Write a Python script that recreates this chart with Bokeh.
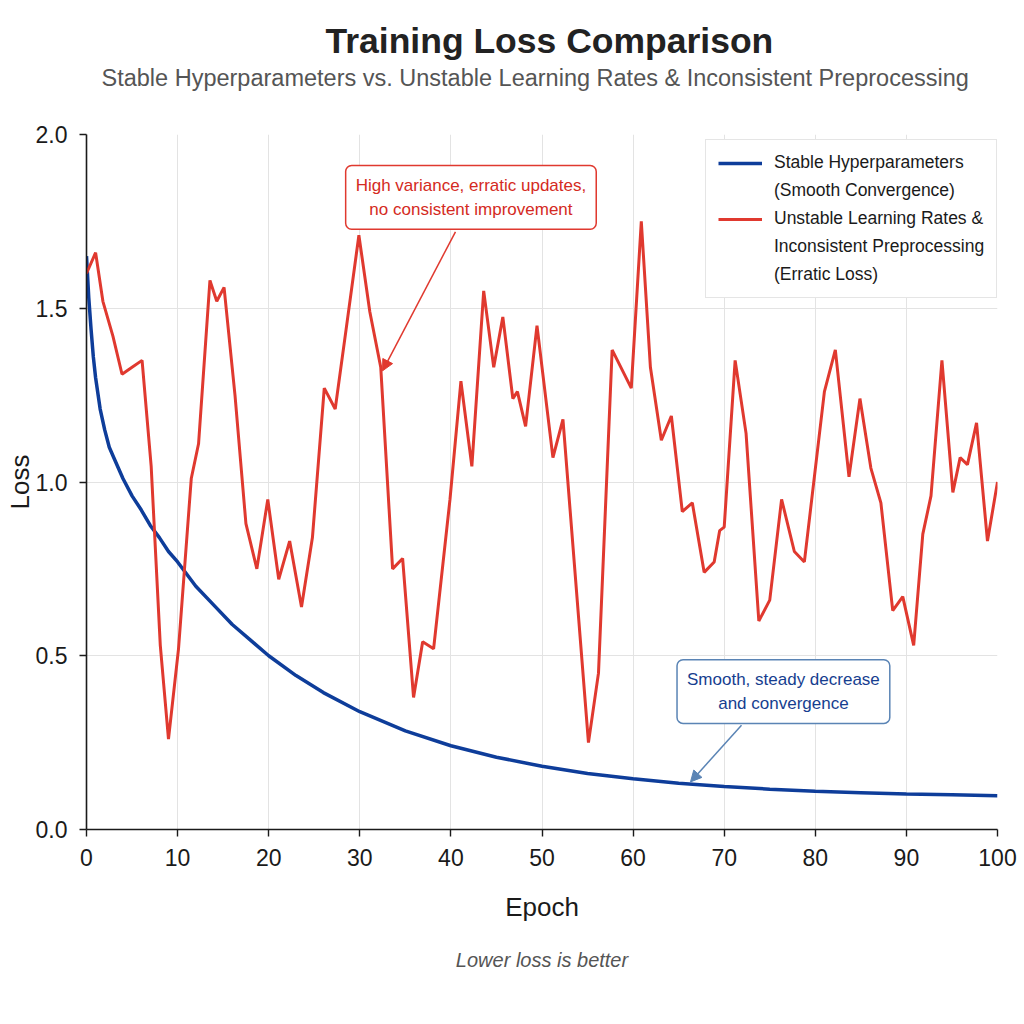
from bokeh.plotting import figure
from bokeh.models import (Label, Arrow, NormalHead, Legend, LegendItem, FixedTicker,
                          NumeralTickFormatter, Range1d, Title)
from bokeh.embed import file_html
from bokeh.resources import INLINE

# ---- data -------------------------------------------------------------
stable_epochs = [0, 0.25, 0.5, 0.75, 1, 1.5, 2, 2.5, 3, 4, 5, 6, 7, 8, 9, 10, 12, 14,
                 16, 18, 20, 23, 26, 30, 35, 40, 45, 50, 55, 60, 65, 70, 75, 80, 85,
                 90, 95, 100]
stable_loss = [1.65, 1.53, 1.44, 1.36, 1.30, 1.21, 1.15, 1.10, 1.07, 1.01, 0.96, 0.92,
               0.875, 0.84, 0.80, 0.77, 0.70, 0.645, 0.59, 0.545, 0.50, 0.443, 0.394,
               0.339, 0.284, 0.241, 0.208, 0.182, 0.161, 0.146, 0.133, 0.124, 0.116,
               0.110, 0.106, 0.102, 0.100, 0.097]

unstable_epochs = [0, 1, 1.8, 2.9, 3.9, 5.0, 6.1, 7.1, 8.1, 9.0, 10.1, 11.5, 12.3,
                   13.55, 14.3, 15.1, 16.3, 17.5, 18.7, 19.9, 21.1, 22.3, 23.6, 24.8,
                   26.1, 27.3, 28.5, 29.9, 31.1, 32.3, 33.6, 34.7, 35.9, 36.9, 38.1,
                   39.9, 41.1, 42.3, 43.6, 44.7, 45.7, 46.8, 47.3, 48.2, 49.45, 51.2,
                   52.3, 55.1, 56.2, 57.7, 59.8, 60.9, 61.9, 63.1, 64.2, 65.4, 66.5,
                   67.8, 68.9, 69.5, 70.0, 71.2, 72.4, 73.8, 75.0, 76.3, 77.7, 78.8,
                   81.0, 82.2, 83.7, 84.9, 86.1, 87.2, 88.5, 89.6, 90.8, 91.8, 92.7,
                   93.9, 95.1, 95.9, 96.7, 97.7, 98.9, 100]
unstable_loss = [1.60, 1.66, 1.52, 1.42, 1.31, 1.33, 1.35, 1.045, 0.53, 0.26, 0.52,
                 1.01, 1.11, 1.58, 1.52, 1.56, 1.25, 0.88, 0.75, 0.95, 0.72, 0.83,
                 0.64, 0.84, 1.27, 1.21, 1.44, 1.71, 1.49, 1.33, 0.75, 0.78, 0.38,
                 0.54, 0.52, 0.95, 1.29, 1.045, 1.55, 1.33, 1.475, 1.24, 1.26, 1.16,
                 1.45, 1.07, 1.18, 0.25, 0.45, 1.38, 1.27, 1.75, 1.33, 1.12, 1.19,
                 0.915, 0.94, 0.74, 0.77, 0.86, 0.87, 1.35, 1.14, 0.60, 0.66, 0.95,
                 0.80, 0.77, 1.26, 1.38, 1.015, 1.24, 1.04, 0.94, 0.63, 0.67, 0.53,
                 0.85, 0.96, 1.35, 0.97, 1.07, 1.05, 1.17, 0.83, 1.0]

x_ticks = [0, 10, 20, 30, 40, 50, 60, 70, 80, 90, 100]
y_ticks = [0.0, 0.5, 1.0, 1.5, 2.0]

BLUE = "#0e3d9a"
RED = "#e0392f"
STEEL = "#5a84b5"
FONT = "Liberation Sans"

# ---- figure -----------------------------------------------------------
p = figure(width=1024, height=1024, output_backend="svg", toolbar_location=None,
           x_range=Range1d(0, 100), y_range=Range1d(0, 2),
           min_border_left=86, min_border_right=27, min_border_top=134,
           min_border_bottom=195, title=None)
p.outline_line_color = None
p.background_fill_color = "white"
p.border_fill_color = "white"

p.xgrid.grid_line_color = "#e3e3e3"
p.ygrid.grid_line_color = "#e3e3e3"
p.xaxis.ticker = FixedTicker(ticks=x_ticks)
p.yaxis.ticker = FixedTicker(ticks=y_ticks)
p.yaxis.formatter = NumeralTickFormatter(format="0.0")

for ax in (p.xaxis, p.yaxis):
    ax.axis_line_color = "#1a1a1a"
    ax.axis_line_width = 1.6
    ax.major_tick_line_color = "#1a1a1a"
    ax.major_tick_line_width = 1.4
    ax.major_tick_out = 7
    ax.major_tick_in = 0
    ax.minor_tick_out = 0
    ax.minor_tick_in = 0
    ax.major_label_text_font = FONT
    ax.major_label_text_font_size = "23px"
    ax.major_label_text_color = "#1a1a1a"
    ax.axis_label_text_font = FONT
    ax.axis_label_text_font_size = "26px"
    ax.axis_label_text_font_style = "normal"
    ax.axis_label_text_color = "#1a1a1a"

p.xaxis.axis_label = "Epoch"
p.yaxis.axis_label = "Loss"
p.xaxis.major_label_standoff = 12
p.xaxis.axis_label_standoff = 23
p.yaxis.major_label_standoff = 12
p.yaxis.axis_label_standoff = -2

# ---- series -----------------------------------------------------------
r_stable = p.line(stable_epochs, stable_loss, line_color=BLUE, line_width=3.5)
r_unstable = p.line(unstable_epochs, unstable_loss, line_color=RED, line_width=3)
# placeholder renderer for the wrapped legend lines (no sample glyph shown)
r_blank = p.line([], [], line_alpha=0)

legend = Legend(items=[
    LegendItem(label="Stable Hyperparameters", renderers=[r_stable]),
    LegendItem(label="(Smooth Convergence)", renderers=[r_blank]),
    LegendItem(label="Unstable Learning Rates &", renderers=[r_unstable]),
    LegendItem(label="Inconsistent Preprocessing", renderers=[r_blank]),
    LegendItem(label="(Erratic Loss)", renderers=[r_blank]),
], location=(619, 531))
legend.label_text_font = FONT
legend.label_text_font_size = "17.5px"
legend.label_text_color = "#1a1a1a"
legend.glyph_width = 44
legend.glyph_height = 20
legend.label_height = 20
legend.label_standoff = 12
legend.padding = 12
legend.spacing = 7
legend.border_line_color = "#cccccc"
legend.border_line_width = 1.5
legend.background_fill_color = "white"
legend.background_fill_alpha = 1
p.add_layout(legend)

# ---- callouts ---------------------------------------------------------
p.add_layout(Arrow(end=NormalHead(size=11, line_color=RED, fill_color=RED, line_width=1),
                   x_start=40.5, y_start=1.72, x_end=32.5, y_end=1.32,
                   line_color=RED, line_width=1.5))
p.add_layout(Label(x=42.2, y=1.819, text="High variance, erratic updates,\nno consistent improvement",
                   text_align="center", text_baseline="middle", text_font=FONT,
                   text_font_size="17px", text_color="#d42a22", text_line_height=1.3,
                   background_fill_color="white", border_line_color=RED,
                   border_line_width=1.5, padding=10, border_radius=6))

p.add_layout(Arrow(end=NormalHead(size=11, line_color=STEEL, fill_color=STEEL, line_width=1),
                   x_start=71.9, y_start=0.30, x_end=66.3, y_end=0.137,
                   line_color=STEEL, line_width=1.5))
p.add_layout(Label(x=76.5, y=0.397, text="Smooth, steady decrease\nand convergence",
                   text_align="center", text_baseline="middle", text_font=FONT,
                   text_font_size="17px", text_color="#163e8f", text_line_height=1.3,
                   background_fill_color="white", border_line_color=STEEL,
                   border_line_width=1.5, padding=10, border_radius=6))

# ---- titles and footnote ---------------------------------------------
# blank title panel keeps a gap between the subtitle and the plot area
gap = Title(text=" ", text_font=FONT, text_font_size="10px", standoff=31)
p.add_layout(gap, "above")
subtitle = Title(text="Stable Hyperparameters vs. Unstable Learning Rates & Inconsistent Preprocessing",
                 align="left", offset=15, text_font=FONT, text_font_size="23.5px",
                 text_font_style="normal", text_color="#555555", standoff=0)
p.add_layout(subtitle, "above")
main_title = Title(text="Training Loss Comparison", align="left", offset=239, text_font=FONT,
                   text_font_size="35.5px", text_font_style="bold", text_color="#222222",
                   standoff=3)
p.add_layout(main_title, "above")
footnote = Title(text="Lower loss is better", align="center", text_font=FONT,
                 text_font_size="20px", text_font_style="italic", text_color="#555555",
                 standoff=45)
p.add_layout(footnote, "below")

open("out.html", "w").write(file_html(p, INLINE))
